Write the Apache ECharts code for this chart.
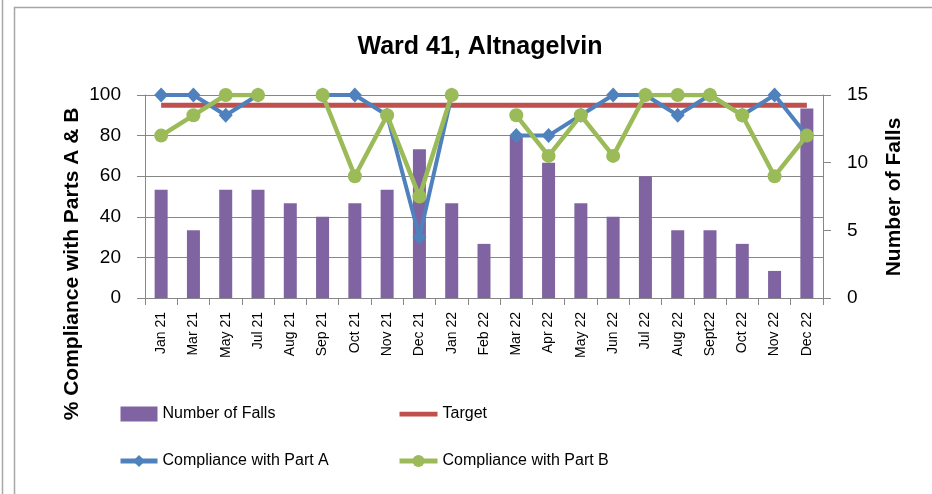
<!DOCTYPE html>
<html>
<head>
<meta charset="utf-8">
<script src="https://cdn.jsdelivr.net/npm/echarts@6/dist/echarts.min.js"></script>
<style>
  html, body { margin: 0; padding: 0; background: #fff; }
  #chart { width: 932px; height: 494px; }
</style>
</head>
<body>
<div id="chart"></div>
<script>
var months = ['Jan 21', 'Mar 21', 'May 21', 'Jul 21', 'Aug 21', 'Sep 21', 'Oct 21', 'Nov 21', 'Dec 21',
  'Jan 22', 'Feb 22', 'Mar 22', 'Apr 22', 'May 22', 'Jun 22', 'Jul 22', 'Aug 22', 'Sept22', 'Oct 22', 'Nov 22', 'Dec 22'];
var falls = [8, 5, 8, 8, 7, 6, 7, 8, 11, 7, 4, 12, 10, 7, 6, 9, 5, 5, 4, 2, 14];
var target = [95, 95, 95, 95, 95, 95, 95, 95, 95, 95, 95, 95, 95, 95, 95, 95, 95, 95, 95, 95, 95];
var partA = [100, 100, 90, 100, '-', 100, 100, 90, 30, 100, '-', 80, 80, 90, 100, 100, 90, 100, 90, 100, 80];
var partB = [80, 90, 100, 100, '-', 100, 60, 90, 50, 100, '-', 90, 70, 90, 70, 100, 100, 100, 90, 60, 80];

var font = 'Liberation Sans';
var grayAxis = '#868686';

var chart = echarts.init(document.getElementById('chart'));
chart.setOption({
  animation: false,
  textStyle: { fontFamily: font },
  grid: { left: 145, right: 109, top: 95, bottom: 196 },
  legend: [
    {
      data: [{ name: 'Number of Falls', icon: 'rect' }, 'Compliance with Part A'],
      orient: 'vertical',
      left: 118, top: 406, padding: 0,
      itemWidth: 37, itemHeight: 15, itemGap: 31,
      lineStyle: { width: 5 },
      textStyle: { fontSize: 16, color: '#000', fontFamily: font }
    },
    {
      // thick bar icon for the target line (no marker)
      data: [{ name: 'Target', icon: 'path://M0,0 L40,0 L40,5 L0,5 Z' }, 'Compliance with Part B'],
      orient: 'vertical',
      left: 397, top: 406, padding: 0,
      itemWidth: 38, itemHeight: 15, itemGap: 31,
      lineStyle: { width: 5 },
      textStyle: { fontSize: 16, color: '#000', fontFamily: font }
    }
  ],
  xAxis: {
    type: 'category',
    data: months,
    boundaryGap: true,
    axisLine: { lineStyle: { color: grayAxis } },
    axisTick: { show: true, length: 7, lineStyle: { color: grayAxis } },
    axisLabel: { interval: 0, rotate: 90, margin: 14, fontSize: 14, color: '#000', fontFamily: font }
  },
  yAxis: [
    {
      type: 'value', min: 0, max: 100, interval: 20,
      axisLine: { show: true, lineStyle: { color: grayAxis } },
      axisTick: { show: true, length: 8, lineStyle: { color: grayAxis } },
      axisLabel: { margin: 24, fontSize: 19, color: '#000', fontFamily: font },
      splitLine: { show: true, lineStyle: { color: grayAxis, width: 1 } }
    },
    {
      type: 'value', min: 0, max: 15, interval: 5, position: 'right',
      axisLine: { show: true, lineStyle: { color: grayAxis } },
      axisTick: { show: true, length: 8, lineStyle: { color: grayAxis } },
      axisLabel: { margin: 24, fontSize: 19, color: '#000', fontFamily: font },
      splitLine: { show: false }
    }
  ],
  graphic: [
    { type: 'line', shape: { x1: 2.5, y1: 0, x2: 2.5, y2: 494 }, style: { stroke: '#a6a6a6', lineWidth: 1.5 } },
    { type: 'rect', shape: { x: 14.5, y: 7.5, width: 1000, height: 1000 }, style: { fill: 'none', stroke: '#a6a6a6', lineWidth: 1.5 } },
    { type: 'text', x: 480, y: 47,
      style: { text: 'Ward 41, Altnagelvin', font: 'bold 25px ' + font, fill: '#000',
        textAlign: 'center', textVerticalAlign: 'middle' } },
    { type: 'text', x: 72, y: 264, rotation: Math.PI / 2,
      style: { text: '% Compliance with Parts A & B', font: 'bold 21px ' + font, fill: '#000',
        textAlign: 'center', textVerticalAlign: 'middle' } },
    { type: 'text', x: 894, y: 197, rotation: Math.PI / 2,
      style: { text: 'Number of Falls', font: 'bold 21px ' + font, fill: '#000',
        textAlign: 'center', textVerticalAlign: 'middle' } }
  ],
  series: [
    {
      name: 'Number of Falls', type: 'bar', yAxisIndex: 1, data: falls,
      barWidth: 13, itemStyle: { color: '#8064A2' }, z: 1
    },
    {
      name: 'Target', type: 'line', data: target,
      symbol: 'none', lineStyle: { color: '#C0504D', width: 5 }, itemStyle: { color: '#C0504D' }, z: 2
    },
    {
      name: 'Compliance with Part A', type: 'line', data: partA,
      symbol: 'diamond', symbolSize: [14, 15], connectNulls: false,
      lineStyle: { color: '#4F81BD', width: 4 }, itemStyle: { color: '#4F81BD' }, z: 3
    },
    {
      name: 'Compliance with Part B', type: 'line', data: partB,
      symbol: 'circle', symbolSize: 14, connectNulls: false,
      lineStyle: { color: '#9BBB59', width: 4.5 }, itemStyle: { color: '#9BBB59' }, z: 4
    }
  ]
});
</script>
</body>
</html>
